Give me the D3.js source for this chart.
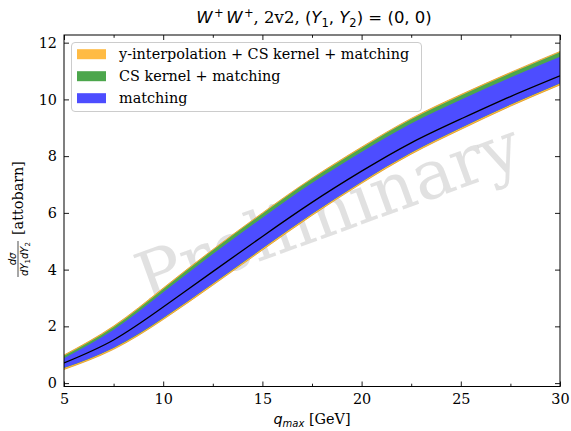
<!DOCTYPE html>
<html>
<head>
<meta charset="utf-8">
<script src="https://cdn.jsdelivr.net/npm/d3@7"></script>
<style>
  body { margin: 0; background: #fff; }
  svg { display: block; }
</style>
</head>
<body>
<svg id="chart" width="571" height="431"></svg>
<script>
// q_max grid [GeV] and cross-section values [attobarn]
const qMax        = [5, 7.5, 10, 12.5, 15, 17.5, 20, 22.5, 25, 27.5, 30];
const central     = [0.71, 1.52, 2.68, 3.93, 5.17, 6.37, 7.47, 8.47, 9.31, 10.10, 10.83];
// "matching" uncertainty band
const matchLo     = [0.54, 1.25, 2.30, 3.51, 4.75, 5.97, 7.10, 8.13, 9.00, 9.82, 10.57];
const matchHi     = [0.88, 1.88, 3.20, 4.55, 5.83, 7.05, 8.15, 9.15, 9.99, 10.77, 11.50];
// "CS kernel + matching" band
const csLo        = [0.53, 1.24, 2.29, 3.50, 4.74, 5.96, 7.09, 8.12, 8.99, 9.81, 10.56];
const csHi        = [0.96, 1.98, 3.32, 4.68, 5.97, 7.19, 8.29, 9.30, 10.14, 10.92, 11.66];
// "y-interpolation + CS kernel + matching" band
const yiLo        = [0.48, 1.19, 2.24, 3.45, 4.69, 5.91, 7.04, 8.07, 8.94, 9.76, 10.51];
const yiHi        = [0.99, 2.01, 3.35, 4.71, 6.00, 7.22, 8.32, 9.33, 10.17, 10.95, 11.69];

const xTicks      = [5, 10, 15, 20, 25, 30];
const xMinorTicks = [7.5, 12.5, 17.5, 22.5, 27.5];
const yTicks      = [0, 2, 4, 6, 8, 10, 12];
const legendLabels = ["y-interpolation + CS kernel + matching", "CS kernel + matching", "matching"];

const W = 571, H = 431;
const m = { left: 64, right: 11, top: 35, bottom: 44.5 };
const SERIF = "DejaVu Serif";
const SANS = "DejaVu Sans";
const FS = 14.4;

const colors = {
  yi: "#ffbb44", yiEdge: "#e09a22",
  cs: "#4ca64c",
  match: "#4d4dff"
};

const svg = d3.select("#chart");
const x = d3.scaleLinear().domain([5, 30]).range([m.left, W - m.right]);
const y = d3.scaleLinear().domain([-0.12, 12.27]).range([H - m.bottom, m.top]);

svg.append("defs").append("clipPath").attr("id", "plot-clip")
  .append("rect")
  .attr("x", m.left).attr("y", m.top)
  .attr("width", W - m.left - m.right).attr("height", H - m.top - m.bottom);

// Watermark
svg.append("text")
  .attr("transform", `translate(${(m.left + W - m.right) / 2 + 16},${(m.top + H - m.bottom) / 2 + 1}) rotate(-20)`)
  .attr("text-anchor", "middle")
  .attr("dominant-baseline", "central")
  .attr("font-family", SERIF)
  .attr("font-size", 68)
  .attr("fill", "#808080")
  .attr("fill-opacity", 0.24)
  .text("Preliminary");

const idx = d3.range(qMax.length);
const curve = d3.curveNatural;
const band = (lo, hi) => d3.area()
  .x(i => x(qMax[i]))
  .y0(i => y(lo[i]))
  .y1(i => y(hi[i]))
  .curve(curve)(idx);

const plot = svg.append("g").attr("clip-path", "url(#plot-clip)");
plot.append("path").attr("d", band(yiLo, yiHi))
  .attr("fill", colors.yi).attr("stroke", colors.yiEdge).attr("stroke-width", 0.8);
plot.append("path").attr("d", band(csLo, csHi)).attr("fill", colors.cs);
plot.append("path").attr("d", band(matchLo, matchHi)).attr("fill", colors.match);
plot.append("path")
  .attr("d", d3.line().x(i => x(qMax[i])).y(i => y(central[i])).curve(curve)(idx))
  .attr("fill", "none").attr("stroke", "#000").attr("stroke-width", 1.3);

// Axes with inward ticks on all four sides
const styleAxis = g => {
  g.attr("font-family", SERIF);
  g.select(".domain").remove();
  g.selectAll(".tick line").attr("stroke", "#000").attr("stroke-width", 0.9);
  g.selectAll(".tick text").attr("font-family", SERIF).attr("font-size", FS).attr("fill", "#000");
};
svg.append("g").attr("transform", `translate(0,${H - m.bottom})`)
  .call(d3.axisBottom(x).tickValues(xTicks).tickFormat(d3.format("d")).tickSize(-5).tickPadding(7))
  .call(styleAxis);
svg.append("g").attr("transform", `translate(0,${H - m.bottom})`)
  .call(d3.axisBottom(x).tickValues(xMinorTicks).tickFormat("").tickSize(-2.8))
  .call(styleAxis);
svg.append("g").attr("transform", `translate(0,${m.top})`)
  .call(d3.axisTop(x).tickValues(xTicks).tickFormat("").tickSize(-5))
  .call(styleAxis);
svg.append("g").attr("transform", `translate(0,${m.top})`)
  .call(d3.axisTop(x).tickValues(xMinorTicks).tickFormat("").tickSize(-2.8))
  .call(styleAxis);
svg.append("g").attr("transform", `translate(${m.left},0)`)
  .call(d3.axisLeft(y).tickValues(yTicks).tickFormat(d3.format("d")).tickSize(-5).tickPadding(7))
  .call(styleAxis);
svg.append("g").attr("transform", `translate(${W - m.right},0)`)
  .call(d3.axisRight(y).tickValues(yTicks).tickFormat("").tickSize(-5))
  .call(styleAxis);

// Frame
svg.append("rect")
  .attr("x", m.left).attr("y", m.top)
  .attr("width", W - m.left - m.right).attr("height", H - m.top - m.bottom)
  .attr("fill", "none").attr("stroke", "#000").attr("stroke-width", 1);

// Legend
const lg = svg.append("g");
lg.append("rect")
  .attr("x", 71.5).attr("y", 42.5).attr("width", 350).attr("height", 69).attr("rx", 3.5)
  .attr("fill", "#fff").attr("fill-opacity", 0.8)
  .attr("stroke", "#cccccc").attr("stroke-width", 1);
const legendColors = [colors.yi, colors.cs, colors.match];
legendLabels.forEach((lab, i) => {
  const cy = 54.2 + i * 22;
  lg.append("rect").attr("x", 77).attr("y", cy - 5).attr("width", 29).attr("height", 10)
    .attr("fill", legendColors[i]);
  lg.append("text").attr("x", 119).attr("y", cy).attr("dy", "0.35em")
    .attr("font-family", SERIF).attr("font-size", FS).attr("fill", "#000")
    .text(lab);
});

// Title
const title = svg.append("text")
  .attr("x", (m.left + W - m.right) / 2 + 2).attr("y", 23)
  .attr("text-anchor", "middle").attr("font-size", 16.5).attr("fill", "#000");
const tsp = (txt, fam, style, size, dy) => {
  const t = title.append("tspan").attr("font-family", fam).attr("font-style", style).text(txt);
  if (size) t.attr("font-size", size);
  if (dy) t.attr("dy", dy);
  return t;
};
tsp("W", SANS, "italic");
tsp("+", SANS, "normal", 11.5, -6).attr("dx", 1.5);
tsp("W", SANS, "italic", null, 6).attr("dx", 2.5);
tsp("+", SANS, "normal", 11.5, -6).attr("dx", 1.5);
tsp(", 2v2, ", SERIF, "normal", null, 6);
tsp("(", SANS, "normal");
tsp("Y", SANS, "italic");
tsp("1", SANS, "normal", 11.5, 3.5);
tsp(", ", SANS, "normal", null, -3.5);
tsp("Y", SANS, "italic");
tsp("2", SANS, "normal", 11.5, 3.5);
tsp(") = (0, 0)", SANS, "normal", null, -3.5);

// x-axis label
const xl = svg.append("text")
  .attr("x", (m.left + W - m.right) / 2).attr("y", 424)
  .attr("text-anchor", "middle").attr("font-size", FS).attr("fill", "#000");
xl.append("tspan").attr("font-family", SANS).attr("font-style", "italic").text("q");
xl.append("tspan").attr("font-family", SANS).attr("font-style", "italic").attr("font-size", 10).attr("dy", 2.5).text("max");
xl.append("tspan").attr("font-family", SERIF).attr("dy", -2.5).text(" [GeV]");

// y-axis label (rotated): fraction d sigma / dY1 dY2 followed by the unit
const yl = svg.append("g").attr("transform", "translate(18,214) rotate(-90)");
const fracCx = -45;
yl.append("text").attr("x", fracCx).attr("y", -2.5).attr("text-anchor", "middle")
  .attr("font-family", SANS).attr("font-style", "italic").attr("font-size", 10).text("dσ");
yl.append("line").attr("x1", fracCx - 18).attr("x2", fracCx + 18).attr("y1", 0).attr("y2", 0)
  .attr("stroke", "#000").attr("stroke-width", 0.7);
const den = yl.append("text").attr("x", fracCx).attr("y", 9.5).attr("text-anchor", "middle")
  .attr("font-family", SANS).attr("font-style", "italic").attr("font-size", 10);
den.append("tspan").text("dY");
den.append("tspan").attr("font-style", "normal").attr("font-size", 7).attr("dy", 2).text("1");
den.append("tspan").attr("dy", -2).text("dY");
den.append("tspan").attr("font-style", "normal").attr("font-size", 7).attr("dy", 2).text("2");
yl.append("text").attr("x", -21).attr("y", 4.5)
  .attr("font-family", SERIF).attr("font-size", FS).attr("fill", "#000")
  .text("[attobarn]");
</script>
</body>
</html>
